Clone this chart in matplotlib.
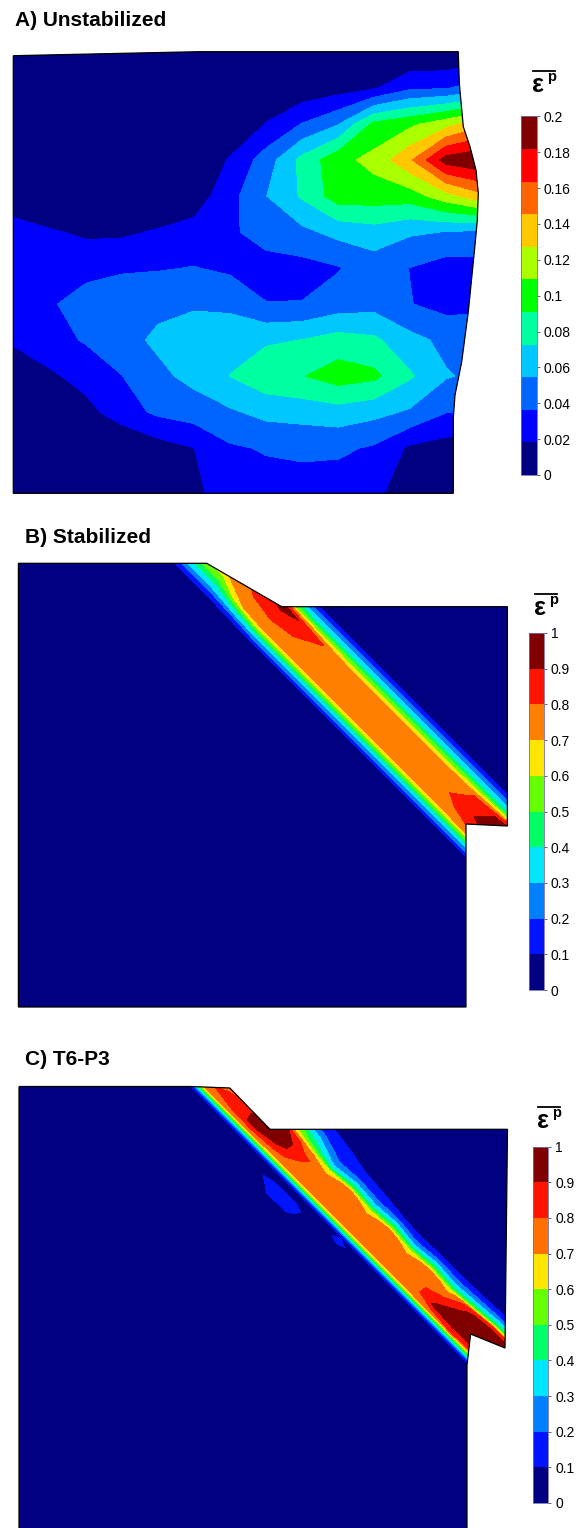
import numpy as np
import matplotlib
matplotlib.use("Agg")
import matplotlib.pyplot as plt
from matplotlib.patches import Polygon

plt.rcParams['font.family'] = ['Liberation Sans', 'DejaVu Sans']

# ---------------- data ----------------
# Panel A: plastic strain on a coarse node grid (pixel positions of nodes)
a_x = [14, 50, 86, 122, 158, 194, 230, 266, 302, 338, 374, 410, 446, 482]
a_y = [52, 88, 124, 160, 196, 232, 268, 304, 340, 376, 412, 448, 494]
a_strain = [
    [0, 0, 0, 0, 0, 0, 0, 0, 0, 0, 0, 0, 0, 0.005],
    [0, 0, 0, 0, 0, 0, 0, 0, 0.005, 0.01, 0.016, 0.033, 0.035, 0.045],
    [0, 0, 0, 0, 0, 0, 0, 0.019, 0.037, 0.053, 0.095, 0.105, 0.12, 0.14],
    [0, 0, 0, 0, 0, 0, 0.02, 0.045, 0.078, 0.103, 0.115, 0.142, 0.19, 0.199],
    [0, 0, 0, 0, 0, 0.008, 0.03, 0.054, 0.075, 0.1, 0.1, 0.1, 0.12, 0.14],
    [0.03, 0.02, 0.015, 0.015, 0.02, 0.025, 0.033, 0.045, 0.05, 0.06, 0.065, 0.057, 0.054, 0.05],
    [0.03, 0.033, 0.03, 0.034, 0.035, 0.037, 0.033, 0.028, 0.03, 0.035, 0.045, 0.036, 0.028, 0.03],
    [0.025, 0.034, 0.045, 0.048, 0.05, 0.052, 0.05, 0.037, 0.037, 0.045, 0.048, 0.037, 0.03, 0.033],
    [0.02, 0.03, 0.038, 0.048, 0.058, 0.065, 0.067, 0.07, 0.073, 0.08, 0.076, 0.06, 0.05, 0.045],
    [0.01, 0.015, 0.025, 0.036, 0.05, 0.06, 0.073, 0.085, 0.09, 0.1, 0.095, 0.075, 0.056, 0.05],
    [0, 0.005, 0.012, 0.028, 0.04, 0.045, 0.052, 0.06, 0.062, 0.065, 0.06, 0.052, 0.037, 0.035],
    [0, 0, 0, 0, 0.01, 0.018, 0.034, 0.038, 0.04, 0.04, 0.034, 0.015, 0.01, 0.005],
    [0, 0, 0, 0, 0, 0.015, 0.025, 0.028, 0.028, 0.025, 0.025, 0, 0, 0],
]
a_ticks = [0, 0.02, 0.04, 0.06, 0.08, 0.1, 0.12, 0.14, 0.16, 0.18, 0.2]
a_ticklabels = ['0', '0.02', '0.04', '0.06', '0.08', '0.1', '0.12', '0.14', '0.16', '0.18', '0.2']
a_colors = ['#000080', '#0000ff', '#0064ff', '#00c8ff', '#00ffa0', '#00ff00',
            '#aaff00', '#ffc800', '#ff6400', '#ff0000', '#800000']

# Panel B: band-aligned node grid (across = y-x, along = x+y, pixel units)
b_across = [260, 284, 290.5, 297, 302.5, 307.5, 312, 316, 322, 343, 364, 369.5, 372.5, 376, 380, 384, 388.5, 394, 420]
b_along = [700, 760, 800, 850, 890, 930, 970, 1010, 1150, 1220, 1260, 1300, 1340, 1400]
b_strain = [
    [0, 0.04, 0.15, 0.25, 0.35, 0.45, 0.55, 0.65, 0.75, 0.72, 0.47, 0.38, 0.33, 0.3, 0.22, 0.17, 0.1, 0.03, 0],
    [0, 0.04, 0.15, 0.25, 0.35, 0.45, 0.55, 0.65, 0.75, 0.72, 0.47, 0.38, 0.33, 0.3, 0.22, 0.17, 0.1, 0.03, 0],
    [0, 0.04, 0.15, 0.25, 0.35, 0.45, 0.55, 0.65, 0.78, 0.72, 0.47, 0.38, 0.33, 0.3, 0.22, 0.17, 0.1, 0.03, 0],
    [0, 0.04, 0.15, 0.25, 0.35, 0.45, 0.55, 0.7, 0.85, 0.8, 0.7, 0.55, 0.47, 0.38, 0.3, 0.2, 0.12, 0.04, 0],
    [0, 0.04, 0.15, 0.25, 0.4, 0.5, 0.6, 0.8, 0.95, 0.82, 0.75, 0.65, 0.55, 0.45, 0.35, 0.25, 0.15, 0.04, 0],
    [0, 0.04, 0.15, 0.25, 0.35, 0.45, 0.58, 0.72, 0.88, 0.8, 0.75, 0.65, 0.55, 0.45, 0.35, 0.25, 0.15, 0.04, 0],
    [0, 0.04, 0.15, 0.25, 0.35, 0.45, 0.55, 0.67, 0.8, 0.78, 0.75, 0.65, 0.55, 0.45, 0.35, 0.25, 0.15, 0.04, 0],
    [0, 0.04, 0.15, 0.25, 0.35, 0.45, 0.55, 0.65, 0.75, 0.76, 0.75, 0.65, 0.55, 0.45, 0.35, 0.25, 0.15, 0.04, 0],
    [0, 0.04, 0.15, 0.25, 0.35, 0.45, 0.55, 0.65, 0.75, 0.76, 0.75, 0.65, 0.55, 0.45, 0.35, 0.25, 0.15, 0.04, 0],
    [0, 0.04, 0.15, 0.25, 0.35, 0.45, 0.55, 0.65, 0.75, 0.76, 0.75, 0.65, 0.55, 0.45, 0.35, 0.25, 0.15, 0.04, 0],
    [0, 0.04, 0.15, 0.25, 0.35, 0.45, 0.55, 0.66, 0.78, 0.83, 0.76, 0.65, 0.55, 0.45, 0.35, 0.25, 0.15, 0.04, 0],
    [0, 0.04, 0.15, 0.25, 0.35, 0.45, 0.6, 0.72, 0.88, 0.92, 0.78, 0.65, 0.55, 0.45, 0.35, 0.25, 0.15, 0.04, 0],
    [0, 0.04, 0.15, 0.25, 0.35, 0.45, 0.65, 0.85, 0.96, 0.95, 0.8, 0.67, 0.56, 0.46, 0.35, 0.25, 0.15, 0.04, 0],
    [0, 0.04, 0.15, 0.25, 0.35, 0.45, 0.65, 0.85, 0.96, 0.95, 0.8, 0.67, 0.56, 0.46, 0.35, 0.25, 0.15, 0.04, 0],
]

# Panel C: band-aligned node grid
c_across = [780, 800, 810, 818, 825, 830.5, 835, 838.5, 841.5, 852, 862, 872, 881.5, 884, 886, 888, 890, 892,
            896, 903, 912, 920, 950]
c_along = [1250, 1300, 1340, 1380, 1420, 1460, 1500, 1540, 1580, 1620, 1660, 1700, 1740, 1780, 1820, 1860]
c_strain = [
    [0, 0, 0.05, 0.15, 0.25, 0.35, 0.45, 0.6, 0.7, 0.75, 0.76, 0.75, 0.72, 0.62, 0.52, 0.42, 0.32, 0.22, 0.08, 0, 0, 0, 0],
    [0, 0, 0.05, 0.15, 0.25, 0.35, 0.45, 0.6, 0.7, 0.75, 0.77, 0.8, 0.74, 0.63, 0.52, 0.42, 0.32, 0.22, 0.08, 0, 0, 0, 0],
    [0, 0, 0.05, 0.15, 0.25, 0.35, 0.45, 0.6, 0.7, 0.76, 0.82, 0.86, 0.75, 0.64, 0.53, 0.42, 0.32, 0.22, 0.08, 0, 0, 0, 0],
    [0, 0.05, 0.15, 0.3, 0.45, 0.55, 0.65, 0.75, 0.82, 0.9, 0.95, 0.92, 0.74, 0.63, 0.52, 0.42, 0.32, 0.22, 0.08, 0, 0, 0, 0],
    [0, 0.1, 0.25, 0.4, 0.55, 0.62, 0.7, 0.8, 0.9, 0.96, 0.96, 0.85, 0.72, 0.62, 0.52, 0.42, 0.32, 0.22, 0.08, 0, 0.05, 0, 0],
    [0, 0.14, 0.2, 0.3, 0.38, 0.45, 0.55, 0.65, 0.72, 0.82, 0.8, 0.76, 0.72, 0.62, 0.52, 0.42, 0.32, 0.22, 0.08, 0.05, 0.16, 0.13, 0],
    [0, 0.1, 0.13, 0.16, 0.22, 0.28, 0.36, 0.45, 0.62, 0.75, 0.77, 0.75, 0.72, 0.62, 0.52, 0.42, 0.32, 0.22, 0.08, 0.04, 0.15, 0.12, 0],
    [0, 0.05, 0.12, 0.17, 0.27, 0.38, 0.5, 0.64, 0.74, 0.77, 0.76, 0.75, 0.72, 0.62, 0.52, 0.42, 0.32, 0.22, 0.08, 0, 0, 0, 0],
    [0, 0.03, 0.1, 0.15, 0.23, 0.32, 0.42, 0.52, 0.64, 0.75, 0.77, 0.75, 0.72, 0.62, 0.52, 0.42, 0.32, 0.22, 0.09, 0.14, 0.05, 0, 0],
    [0, 0, 0.05, 0.15, 0.27, 0.4, 0.52, 0.64, 0.74, 0.77, 0.76, 0.75, 0.72, 0.62, 0.52, 0.42, 0.32, 0.22, 0.08, 0, 0, 0, 0],
    [0, 0, 0.04, 0.12, 0.2, 0.3, 0.4, 0.52, 0.64, 0.75, 0.77, 0.75, 0.72, 0.62, 0.52, 0.42, 0.32, 0.22, 0.08, 0, 0, 0, 0],
    [0, 0, 0.05, 0.15, 0.27, 0.4, 0.52, 0.64, 0.74, 0.77, 0.76, 0.75, 0.72, 0.62, 0.52, 0.42, 0.32, 0.22, 0.08, 0, 0, 0, 0],
    [0, 0, 0.05, 0.14, 0.23, 0.33, 0.43, 0.55, 0.66, 0.78, 0.88, 0.92, 0.74, 0.63, 0.52, 0.42, 0.32, 0.22, 0.08, 0, 0, 0, 0],
    [0, 0, 0.06, 0.16, 0.28, 0.4, 0.55, 0.8, 0.88, 0.95, 0.96, 0.95, 0.8, 0.65, 0.53, 0.42, 0.32, 0.22, 0.08, 0, 0, 0, 0],
    [0, 0, 0.08, 0.2, 0.35, 0.5, 0.82, 0.9, 0.95, 0.96, 0.96, 0.93, 0.78, 0.64, 0.53, 0.42, 0.32, 0.22, 0.08, 0, 0, 0, 0],
    [0, 0, 0.08, 0.2, 0.35, 0.5, 0.82, 0.9, 0.95, 0.96, 0.96, 0.93, 0.78, 0.64, 0.53, 0.42, 0.32, 0.22, 0.08, 0, 0, 0, 0],
]
bc_ticks = [0, 0.1, 0.2, 0.3, 0.4, 0.5, 0.6, 0.7, 0.8, 0.9, 1.0]
bc_ticklabels = ['0', '0.1', '0.2', '0.3', '0.4', '0.5', '0.6', '0.7', '0.8', '0.9', '1']
b_colors = ['#000080', '#0014ff', '#0080ff', '#00e6ff', '#00ff64', '#64ff00',
            '#ffe600', '#ff8000', '#ff1400', '#800000']
c_colors = ['#000080', '#0014ff', '#0080ff', '#00e6ff', '#00ff64', '#64ff00',
            '#ffe600', '#ff7000', '#ff1400', '#800000']

titles = ['A) Unstabilized', 'B) Stabilized', 'C) T6-P3']

# outlines of deformed specimens (pixel coordinates)
a_outline = [(13.3, 55.7), (198, 51.7), (458.3, 51.7), (459.3, 83.3), (463.3, 126.7), (470, 146.7),
             (476, 170), (478.3, 193.3), (477.3, 220), (475, 245), (468.3, 311.7), (461.7, 361.7),
             (455, 395), (453.3, 418.3), (453.3, 493.3), (13.3, 493.3)]
b_outline = [(18.4, 563.3), (206.7, 563.3), (281.7, 606.7), (507.4, 606.7), (507.4, 826),
             (466, 824), (466, 1007), (18.4, 1007)]
c_outline = [(19, 1086.5), (191, 1086.5), (229.8, 1088), (270, 1129.3), (507.5, 1129.3),
             (505, 1348), (470.6, 1334), (467, 1365), (467, 1530), (19, 1530)]

# ---------------- figure ----------------
W, H = 577, 1528
fig = plt.figure(figsize=(W / 100, H / 100), dpi=100)
ax = fig.add_axes([0, 0, 1, 1])
ax.set_xlim(0, W)
ax.set_ylim(H, 0)
ax.axis('off')


def panel(X, Y, Z, levels, colors, outline):
    bg = Polygon(outline, closed=True, facecolor=colors[0], edgecolor='none', zorder=1)
    ax.add_patch(bg)
    cs = ax.contourf(X, Y, Z, levels=levels, colors=colors, zorder=2, antialiased=False)
    cs.set_clip_path(bg)
    edge = Polygon(outline, closed=True, facecolor='none', edgecolor='black', lw=0.9, zorder=3)
    ax.add_patch(edge)
    return cs


def colorbar(cs, box, ticks, labels):
    l, t, r, b = box
    cax = fig.add_axes([l / W, 1 - b / H, (r - l) / W, (b - t) / H])
    cb = fig.colorbar(cs, cax=cax, ticks=ticks)
    cb.set_ticklabels(labels)
    cax.tick_params(length=2, width=0.7, color='#666666', labelsize=10, pad=3)
    cb.outline.set_linewidth(0.6)
    cb.outline.set_edgecolor('#7070b0')
    return cb


def cb_title(x, y_base):
    ax.text(x - 1, y_base, 'ε', fontsize=18, fontweight='bold', va='baseline', ha='left')
    ax.text(x + 14.5, y_base - 11, 'p', fontsize=10.5, fontweight='bold', va='baseline', ha='left')
    ax.plot([x, x + 21.5], [y_base - 21.5, y_base - 21.5], color='black', lw=1.3)


# Panel A
AX, AY = np.meshgrid(a_x, a_y)
csA = panel(AX, AY, np.array(a_strain), np.linspace(0, 0.2, 12), a_colors, a_outline)
colorbar(csA, (520.7, 116.3, 536.5, 475), a_ticks, a_ticklabels)
cb_title(533, 92)

# Panel B
BU, BV = np.meshgrid(b_across, b_along)
csB = panel((BV - BU) / 2, (BV + BU) / 2, np.array(b_strain), np.linspace(0, 1, 11), b_colors, b_outline)
colorbar(csB, (529.4, 633, 544, 990), bc_ticks, bc_ticklabels)
cb_title(535, 615)

# Panel C
CU, CV = np.meshgrid(c_across, c_along)
csC = panel((CV - CU) / 2, (CV + CU) / 2, np.array(c_strain), np.linspace(0, 1, 11), c_colors, c_outline)
colorbar(csC, (532.5, 1146.7, 548.3, 1503), bc_ticks, bc_ticklabels)
cb_title(538, 1128)

# titles
for txt, (tx, ty) in zip(titles, [(15, 26), (25, 543.3), (24.6, 1065)]):
    ax.text(tx, ty, txt, fontsize=15, fontweight='bold', va='baseline', ha='left')

fig.savefig('out.png', dpi=100)
